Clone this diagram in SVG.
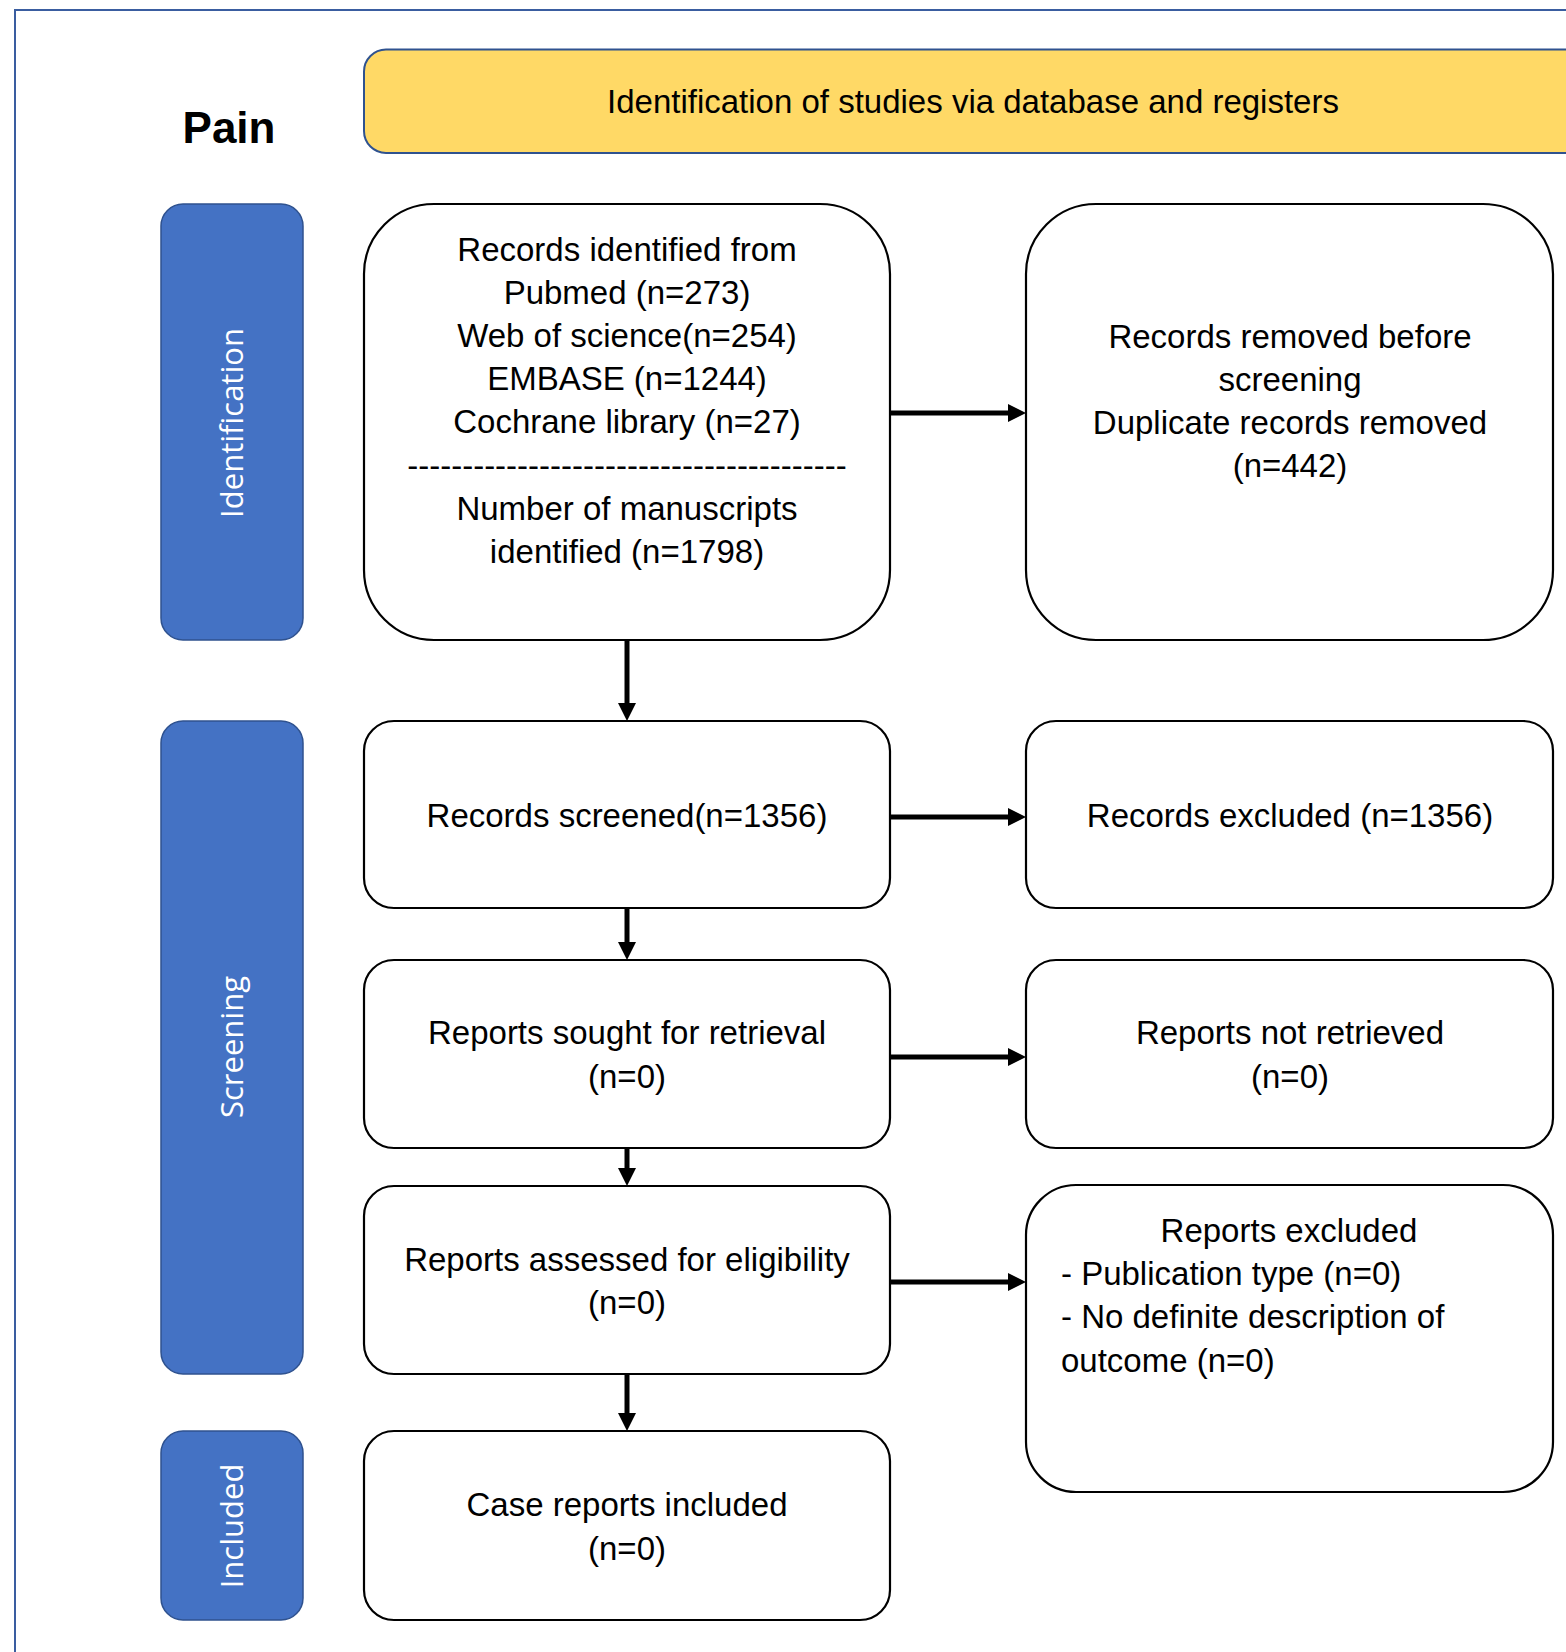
<svg xmlns="http://www.w3.org/2000/svg" width="1566" height="1652" viewBox="0 0 1566 1652">
<style>
.t{font-family:"Liberation Sans",Arial,sans-serif;font-size:33px;fill:#000}
.c{text-anchor:middle}
.box{fill:#fff;stroke:#000;stroke-width:2.2}
.bar{fill:#4472C4;stroke:#2F528F;stroke-width:1.5}
.bl{font-family:"Open Sans","DejaVu Sans",sans-serif;font-size:31px;fill:#fff;text-anchor:middle}
.arr{stroke:#000;stroke-width:5;fill:none;marker-end:url(#ah)}
</style>
<defs>
<marker id="ah" markerUnits="userSpaceOnUse" markerWidth="19" markerHeight="19" refX="1" refY="9.5" orient="auto">
<path d="M0,0.5 L18,9.5 L0,18.5 z" fill="#000"/>
</marker>
</defs>
<rect x="0" y="0" width="1566" height="1652" fill="#fff"/>
<rect x="15" y="10" width="1620" height="1720" fill="none" stroke="#3A5DA0" stroke-width="2"/>
<g id="title"><text class="t" x="229" y="143" style="font-weight:bold;font-size:44px" text-anchor="middle">Pain</text></g>
<g id="header">
<rect x="364" y="49.5" width="1240" height="103.5" rx="22" fill="#FFD966" stroke="#2F528F" stroke-width="2"/>
<text class="t c" x="973" y="113">Identification of studies via database and registers</text>
</g>
<g id="bar-identification">
<rect class="bar" x="161" y="204" width="142" height="436" rx="22"/>
<text class="bl" transform="translate(243,423) rotate(-90)">Identification</text>
</g>
<g id="bar-screening">
<rect class="bar" x="161" y="721" width="142" height="653" rx="22"/>
<text class="bl" transform="translate(243,1047) rotate(-90)">Screening</text>
</g>
<g id="bar-included">
<rect class="bar" x="161" y="1431" width="142" height="189" rx="22"/>
<text class="bl" transform="translate(243,1526) rotate(-90)">Included</text>
</g>
<g id="records-identified">
<rect class="box" x="364" y="204" width="526" height="436" rx="70"/>
<text class="t c" x="627" y="261">Records identified from</text>
<text class="t c" x="627" y="304">Pubmed (n=273)</text>
<text class="t c" x="627" y="347">Web of science(n=254)</text>
<text class="t c" x="627" y="390">EMBASE (n=1244)</text>
<text class="t c" x="627" y="433">Cochrane library (n=27)</text>
<text class="t c" x="627" y="477">----------------------------------------</text>
<text class="t c" x="627" y="520">Number of manuscripts</text>
<text class="t c" x="627" y="563">identified (n=1798)</text>
</g>
<g id="records-removed">
<rect class="box" x="1026" y="204" width="527" height="436" rx="70"/>
<text class="t c" x="1290" y="348">Records removed before</text>
<text class="t c" x="1290" y="391">screening</text>
<text class="t c" x="1290" y="434">Duplicate records removed</text>
<text class="t c" x="1290" y="477">(n=442)</text>
</g>
<g id="records-screened">
<rect class="box" x="364" y="721" width="526" height="187" rx="30"/>
<text class="t c" x="627" y="827">Records screened(n=1356)</text>
</g>
<g id="records-excluded">
<rect class="box" x="1026" y="721" width="527" height="187" rx="30"/>
<text class="t c" x="1290" y="827">Records excluded (n=1356)</text>
</g>
<g id="reports-sought">
<rect class="box" x="364" y="960" width="526" height="188" rx="30"/>
<text class="t c" x="627" y="1044">Reports sought for retrieval</text>
<text class="t c" x="627" y="1088">(n=0)</text>
</g>
<g id="reports-not-retrieved">
<rect class="box" x="1026" y="960" width="527" height="188" rx="30"/>
<text class="t c" x="1290" y="1044">Reports not retrieved</text>
<text class="t c" x="1290" y="1088">(n=0)</text>
</g>
<g id="reports-assessed">
<rect class="box" x="364" y="1186" width="526" height="188" rx="30"/>
<text class="t c" x="627" y="1271">Reports assessed for eligibility</text>
<text class="t c" x="627" y="1314">(n=0)</text>
</g>
<g id="reports-excluded">
<rect class="box" x="1026" y="1185" width="527" height="307" rx="50"/>
<text class="t c" x="1289" y="1242">Reports excluded</text>
<text class="t" x="1061" y="1285">- Publication type (n=0)</text>
<text class="t" x="1061" y="1328">- No definite description of</text>
<text class="t" x="1061" y="1372">outcome (n=0)</text>
</g>
<g id="case-reports">
<rect class="box" x="364" y="1431" width="526" height="189" rx="30"/>
<text class="t c" x="627" y="1516">Case reports included</text>
<text class="t c" x="627" y="1560">(n=0)</text>
</g>
<g id="connectors">
<line class="arr" x1="890" y1="413" x2="1009" y2="413"/>
<line class="arr" x1="890" y1="817" x2="1009" y2="817"/>
<line class="arr" x1="890" y1="1057" x2="1009" y2="1057"/>
<line class="arr" x1="890" y1="1282" x2="1009" y2="1282"/>
<line class="arr" x1="627" y1="640" x2="627" y2="704"/>
<line class="arr" x1="627" y1="908" x2="627" y2="943"/>
<line class="arr" x1="627" y1="1148" x2="627" y2="1169"/>
<line class="arr" x1="627" y1="1374" x2="627" y2="1414"/>
</g>
</svg>
